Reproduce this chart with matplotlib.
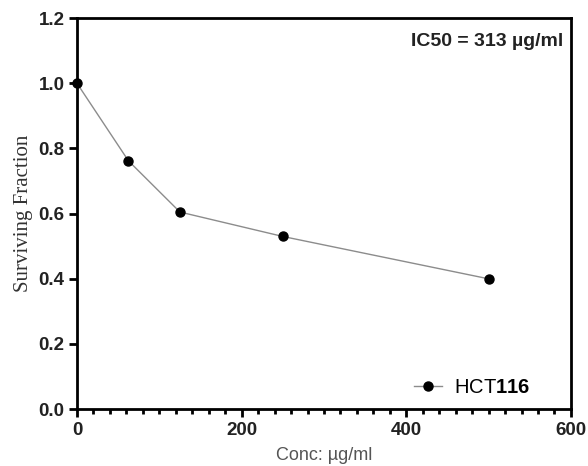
import matplotlib
matplotlib.use('Agg')
import matplotlib.pyplot as plt
from matplotlib.ticker import MultipleLocator

# concentration (ug/ml) vs surviving fraction, HCT116
conc = [0, 62.5, 125, 250, 500]
surv = [1.0, 0.762, 0.605, 0.53, 0.40]
series_name = 'HCT$\\mathbf{116}$'
ic50_text = 'IC50 = 313 \u00b5g/ml'

plt.rcParams['mathtext.fontset'] = 'custom'
plt.rcParams['mathtext.rm'] = 'Liberation Sans'
plt.rcParams['mathtext.bf'] = 'Liberation Sans:bold'

fig = plt.figure(figsize=(5.88, 4.66), dpi=100)
ax = fig.add_axes([0.131, 0.122, 0.84, 0.839])

ax.plot(conc, surv, color='#8c8c8c', lw=1.0, marker='o', ms=6.5,
        mfc='black', mec='black', label=series_name, clip_on=False, zorder=3)

ax.set_xlim(0, 600)
ax.set_ylim(0, 1.2)
ax.xaxis.set_major_locator(MultipleLocator(200))
ax.xaxis.set_minor_locator(MultipleLocator(20))
ax.yaxis.set_major_locator(MultipleLocator(0.2))
ax.yaxis.set_major_formatter(matplotlib.ticker.FormatStrFormatter('%.1f'))

for s in ax.spines.values():
    s.set_linewidth(2.0)
ax.tick_params(which='major', direction='out', length=6, width=2, labelsize=13.5, pad=3)
ax.tick_params(which='minor', direction='out', length=3.5, width=2)
for lab in ax.get_xticklabels() + ax.get_yticklabels():
    lab.set_fontweight('bold')
    lab.set_family('Liberation Sans')
    lab.set_color('#222222')

ax.set_ylabel('Surviving Fraction', family='Liberation Serif', fontsize=15,
              color='#333333', labelpad=4)
ax.set_xlabel('Conc: \u00b5g/ml', family='Liberation Sans', fontsize=13,
              color='#555555', labelpad=6)

ax.text(0.985, 0.94, ic50_text, transform=ax.transAxes, ha='right', va='center',
        fontsize=14, fontweight='bold', family='Liberation Sans', color='#222222')

leg = ax.legend(loc='lower right', frameon=False,
                prop={'family': 'Liberation Sans', 'size': 14.5},
                handlelength=1.4, handletextpad=0.6, borderaxespad=0.2,
                bbox_to_anchor=(0.942, 0.0))

fig.savefig('out.png', dpi=100)
